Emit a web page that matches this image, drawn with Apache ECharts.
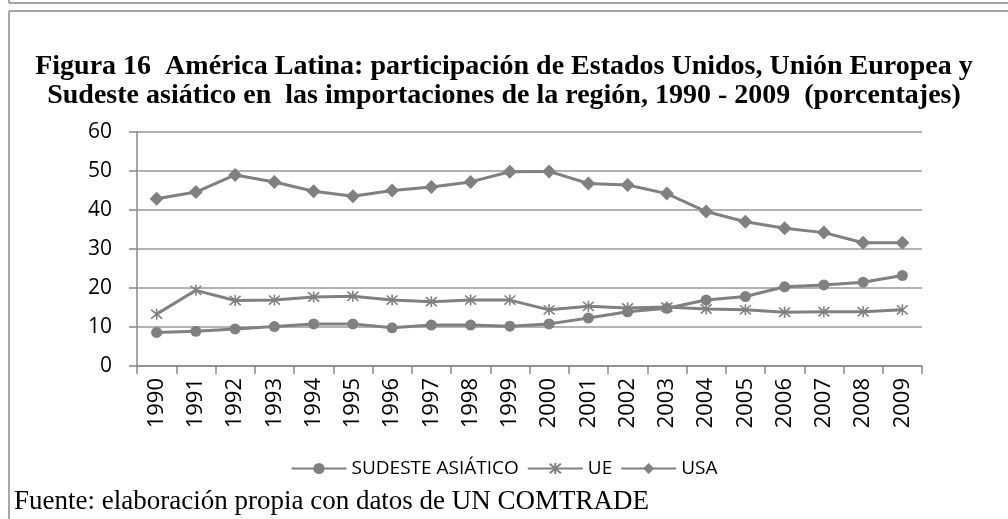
<!DOCTYPE html>
<html>
<head>
<meta charset="utf-8">
<script src="https://cdn.jsdelivr.net/npm/echarts@6/dist/echarts.min.js"></script>
<style>
  html, body { margin: 0; padding: 0; background: #fff; }
  #chart { width: 1008px; height: 519px; }
</style>
</head>
<body>
<div id="chart"></div>
<script>
const years = ['1990', '1991', '1992', '1993', '1994', '1995', '1996', '1997', '1998', '1999',
  '2000', '2001', '2002', '2003', '2004', '2005', '2006', '2007', '2008', '2009'];

const sudesteAsiatico = [8.6, 8.9, 9.5, 10.1, 10.8, 10.8, 9.8, 10.5, 10.5, 10.2,
  10.8, 12.3, 13.9, 14.8, 16.9, 17.8, 20.3, 20.8, 21.5, 23.2];
const ue = [13.3, 19.4, 16.8, 16.9, 17.7, 17.9, 16.9, 16.5, 16.9, 16.9,
  14.4, 15.3, 14.9, 15.1, 14.6, 14.4, 13.8, 13.9, 13.9, 14.4];
const usa = [42.9, 44.6, 49.0, 47.2, 44.8, 43.5, 45.0, 45.9, 47.2, 49.8,
  49.9, 46.8, 46.4, 44.2, 39.6, 37.0, 35.3, 34.2, 31.6, 31.6];

const yTicks = { min: 0, max: 60, step: 10 };

const gray = '#808080';
const asterisk = 'path://M0,0L10,10M10,0L0,10M5,-1L5,11';

const chart = echarts.init(document.getElementById('chart'));

const lineSeries = (name, data, symbol, size) => ({
  name: name,
  type: 'line',
  data: data,
  symbol: symbol,
  symbolSize: size,
  lineStyle: { color: gray, width: 3 },
  itemStyle: { color: gray },
  emphasis: { disabled: true },
});

const ueSeries = lineSeries('UE', ue, asterisk, 11);
ueSeries.itemStyle = { color: 'none', borderColor: gray, borderWidth: 1.6 };

const option = {
  animation: false,
  title: {
    text: 'Figura 16  América Latina: participación de Estados Unidos, Unión Europea y\nSudeste asiático en  las importaciones de la región, 1990 - 2009  (porcentajes)',
    left: 'center',
    top: 47,
    textStyle: {
      fontFamily: 'Liberation Serif',
      fontWeight: 'bold',
      fontSize: 28,
      lineHeight: 29,
      color: '#000',
    },
  },
  grid: {
    left: 137,
    right: 86,
    top: 132,
    bottom: 153,
  },
  xAxis: {
    type: 'category',
    data: years,
    boundaryGap: true,
    axisLine: { lineStyle: { color: '#888', width: 1.5 } },
    axisTick: { show: true, length: 8, interval: 0, lineStyle: { color: '#888', width: 1.5 } },
    axisLabel: {
      rotate: 90,
      interval: 0,
      margin: 12,
      fontFamily: 'Open Sans',
      fontSize: 22,
      color: '#000',
    },
  },
  yAxis: {
    type: 'value',
    min: yTicks.min,
    max: yTicks.max,
    interval: yTicks.step,
    axisLine: { show: true, lineStyle: { color: '#888', width: 1.5 } },
    axisTick: { show: true, length: 8, lineStyle: { color: '#888', width: 1.5 } },
    splitLine: { lineStyle: { color: '#999', width: 1.5 } },
    axisLabel: {
      margin: 25,
      fontFamily: 'Open Sans',
      fontSize: 21,
      color: '#000',
    },
  },
  legend: {
    top: 454,
    left: 'center',
    itemWidth: 55,
    itemHeight: 14,
    itemGap: 8,
    textStyle: { fontFamily: 'Open Sans', fontSize: 19, color: '#000' },
    data: ['SUDESTE ASIÁTICO', 'UE', 'USA'],
  },
  graphic: [
    { type: 'line', shape: { x1: 9, y1: 3, x2: 1008, y2: 3 }, style: { stroke: '#888', lineWidth: 1.5 } },
    { type: 'line', shape: { x1: 9, y1: 0, x2: 9, y2: 3 }, style: { stroke: '#888', lineWidth: 1.5 } },
    { type: 'line', shape: { x1: 9, y1: 11, x2: 1008, y2: 11 }, style: { stroke: '#888', lineWidth: 1.5 } },
    { type: 'line', shape: { x1: 9, y1: 11, x2: 9, y2: 519 }, style: { stroke: '#888', lineWidth: 1.5 } },
    {
      type: 'text',
      left: 14,
      top: 488,
      style: {
        text: 'Fuente: elaboración propia con datos de UN COMTRADE',
        font: '27px "Liberation Serif"',
        fill: '#000',
      },
    },
  ],
  series: [
    lineSeries('SUDESTE ASIÁTICO', sudesteAsiatico, 'circle', 11),
    ueSeries,
    lineSeries('USA', usa, 'diamond', 14),
  ],
};

chart.setOption(option);
</script>
</body>
</html>
